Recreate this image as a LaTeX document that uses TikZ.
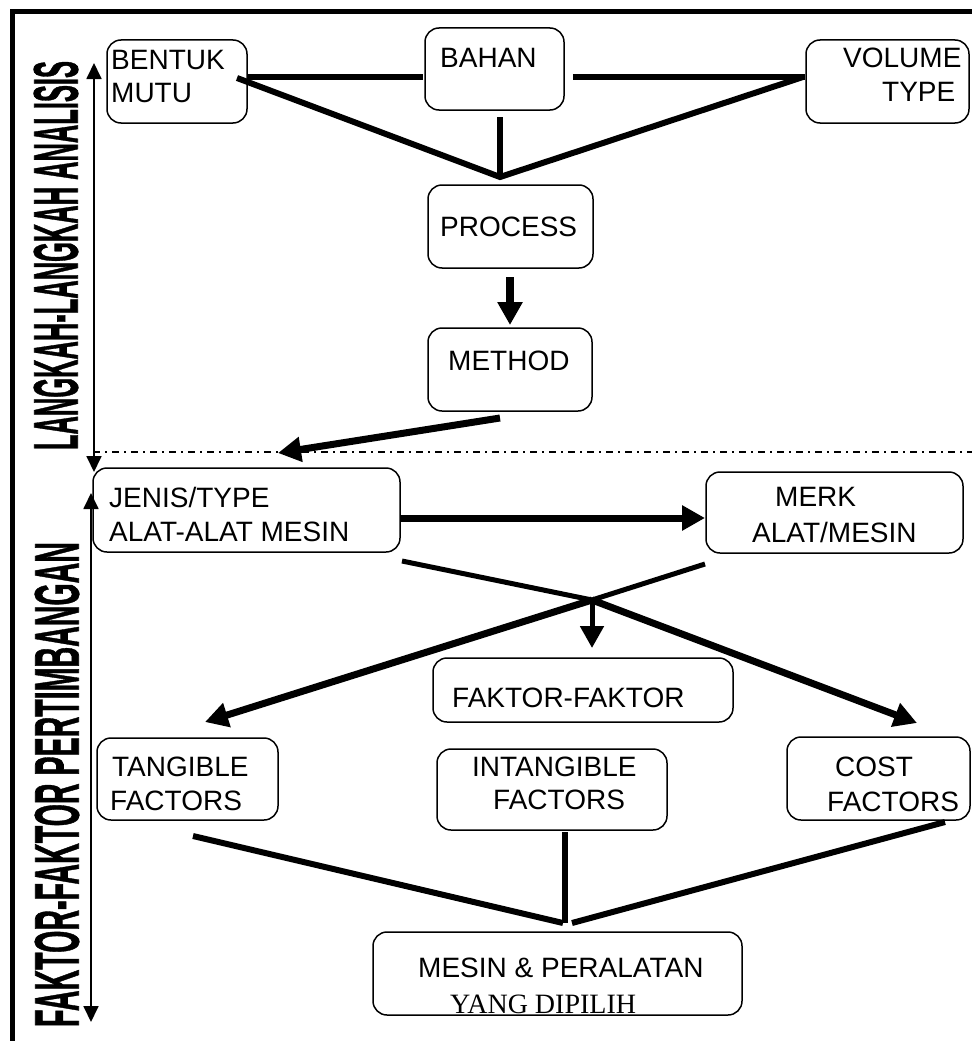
\documentclass[tikz,border=0pt]{standalone}
\usepackage{fontspec}
\setmainfont{Liberation Sans}
\newfontfamily\serifpart{Liberation Serif}
\newfontfamily\sidefont{Liberation Sans}[BoldFeatures={FakeBold=1.2}]
\usetikzlibrary{arrows.meta}

\tikzset{
  box/.style={draw, line width=1.5pt, rounded corners=14pt, inner sep=0pt},
  txt/.style={inner sep=0pt, anchor=north west, font=\fontsize{28}{34}\selectfont},
  link/.style={line width=6pt},
  thinlink/.style={line width=5pt},
  bigarrow/.style={line width=7pt, -{Triangle[length=23pt,width=24pt]}},
  sidearrow/.style={line width=1.8pt, {Triangle[length=16pt,width=15pt]}-{Triangle[length=16pt,width=15pt]}},
  sidetext/.style={inner sep=0pt, rotate=90, anchor=center}
}

\begin{document}
\begin{tikzpicture}[x=1pt,y=-1pt]
\useasboundingbox (0,0) rectangle (972,1041);

% outer frame (top and left edges)
\draw[line width=5pt] (12,1041) -- (12,12) -- (972,12);

% side captions
\node[sidetext] (capA) at (56,255.5) {\resizebox{389pt}{44pt}{\sidefont\bfseries LANGKAH-LANGKAH ANALISIS}};
\node[sidetext] (capB) at (57,784.5) {\resizebox{485pt}{44pt}{\sidefont\bfseries FAKTOR-FAKTOR PERTIMBANGAN}};

% side range arrows
\coordinate (sa1) at (94,63);
\coordinate (sa2) at (94,472);
\coordinate (sb1) at (91,493);
\coordinate (sb2) at (91,1022);
\draw[sidearrow] (sa1) -- (sa2);
\draw[sidearrow] (sb1) -- (sb2);

% dash-dot separator
\coordinate (sep1) at (93,452);
\coordinate (sep2) at (972,452);
\draw[line width=1.5pt, dash pattern=on 7pt off 5pt on 2pt off 5pt] (sep1) -- (sep2);

% boxes
\node[box, minimum width=140pt, minimum height=83pt] (bentuk) at (177,81.5) {};
\node[box, minimum width=139pt, minimum height=82pt] (bahan) at (494.5,69) {};
\node[box, minimum width=163pt, minimum height=83pt] (volume) at (887.5,81.5) {};
\node[box, minimum width=165pt, minimum height=83pt] (process) at (510.5,226.5) {};
\node[box, minimum width=164pt, minimum height=83pt] (method) at (510,369.5) {};
\node[box, minimum width=307pt, minimum height=84pt] (jenis) at (246.5,510) {};
\node[box, minimum width=257pt, minimum height=81pt] (merk) at (834.5,512.5) {};
\node[box, minimum width=300pt, minimum height=64pt] (faktor) at (583,690) {};
\node[box, minimum width=181pt, minimum height=82pt] (tangible) at (187.5,779) {};
\node[box, minimum width=230pt, minimum height=81pt] (intangible) at (552,789.5) {};
\node[box, minimum width=183pt, minimum height=83pt] (cost) at (878.5,778.5) {};
\node[box, minimum width=369pt, minimum height=83pt] (mesin) at (557.5,973.5) {};

% box texts
\node[txt] (t-bentuk1) at (111,50) {BENTUK};
\node[txt] (t-bentuk2) at (111,83) {MUTU};
\node[txt] (t-bahan) at (440,48) {BAHAN};
\node[txt] (t-volume1) at (843,48) {VOLUME};
\node[txt] (t-volume2) at (882,82) {TYPE};
\node[txt] (t-process) at (440,217) {PROCESS};
\node[txt] (t-method) at (448,351) {METHOD};
\node[txt] (t-jenis1) at (109,487) {JENIS/TYPE};
\node[txt] (t-jenis2) at (109,522) {ALAT-ALAT MESIN};
\node[txt] (t-merk1) at (775,487) {MERK};
\node[txt] (t-merk2) at (752,522) {ALAT/MESIN};
\node[txt] (t-faktor) at (452,688) {FAKTOR-FAKTOR};
\node[txt] (t-tang1) at (112,757) {TANGIBLE};
\node[txt] (t-tang2) at (110,791) {FACTORS};
\node[txt] (t-intang1) at (472,757) {INTANGIBLE};
\node[txt] (t-intang2) at (493,790) {FACTORS};
\node[txt] (t-cost1) at (835,757) {COST};
\node[txt] (t-cost2) at (827,792) {FACTORS};
\node[txt] (t-mesin1) at (418,958) {MESIN \& PERALATAN};
\node[txt, font=\serifpart\fontsize{28}{34}\selectfont] (t-mesin2) at (450,995) {YANG DIPILIH};

% top group: BENTUK, BAHAN, VOLUME joined into PROCESS
\coordinate (join1) at (500,177);
\coordinate (bentuk-out) at (237,78);
\coordinate (volume-out) at (803,77);
\coordinate (bahan-out) at (500,117);
\draw[link] (bentuk.east |- 0,77) -- ++(175,0);
\draw[link] (bahan.east |- 0,77) ++(8,0) -- (volume.west |- 0,77);
\draw[link] (bentuk-out) -- (join1) -- (volume-out);
\draw[link] (bahan-out) -- (join1);

% PROCESS -> METHOD
\coordinate (process-out) at (510,277);
\coordinate (method-in) at (510,325);
\draw[bigarrow, line width=8pt] (process-out) -- (method-in);

% METHOD -> separator
\coordinate (method-out) at (500,418);
\coordinate (sep-hit) at (278,453);
\draw[bigarrow] (method-out) -- (sep-hit);

% JENIS -> MERK
\coordinate (jenis-out) at (400,518);
\coordinate (merk-in) at (705,518);
\draw[bigarrow] (jenis-out) -- (merk-in);

% crossing towards the factor boxes
\coordinate (cross) at (592,600);
\coordinate (jenis-low) at (402,561);
\coordinate (merk-low) at (705,564);
\coordinate (tang-in) at (205,722);
\coordinate (cost-in) at (917,723);
\coordinate (faktor-in) at (592,648);
\draw[thinlink] (jenis-low) -- (cross);
\draw[thinlink] (merk-low) -- (cross);
\draw[bigarrow] (cross) -- (tang-in);
\draw[bigarrow] (cross) -- (cost-in);
\draw[line width=5pt, -{Triangle[length=22pt,width=23pt]}] (cross) -- (faktor-in);

% factor boxes joined into MESIN & PERALATAN
\coordinate (tang-out) at (193,836);
\coordinate (intang-out) at (565,832);
\coordinate (cost-out) at (945,822);
\coordinate (joinL) at (563,923);
\coordinate (joinM) at (565,923);
\coordinate (joinR) at (572,923);
\draw[link] (tang-out) -- (joinL);
\draw[link] (intang-out) -- (joinM);
\draw[link] (cost-out) -- (joinR);
\end{tikzpicture}
\end{document}
